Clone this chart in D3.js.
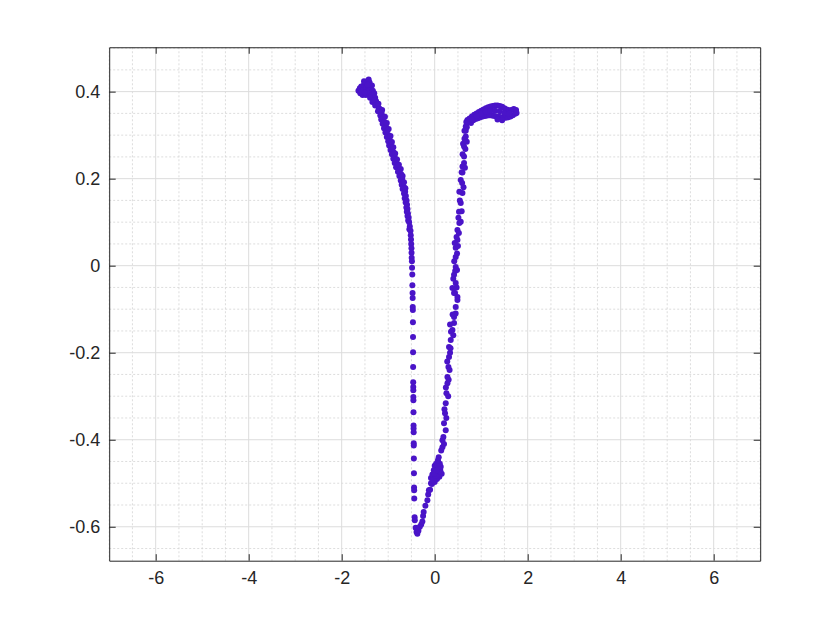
<!DOCTYPE html>
<html>
<head>
<meta charset="utf-8">
<script src="https://cdn.jsdelivr.net/npm/d3@7"></script>
<style>
  html, body { margin: 0; padding: 0; background: #fff; }
  svg { display: block; }
</style>
</head>
<body>
<svg id="chart" width="840" height="630"></svg>
<script>
// ---- Data ----
const xTicks = [-6, -4, -2, 0, 2, 4, 6];
const yTicks = [-0.6, -0.4, -0.2, 0, 0.2, 0.4];
const xDomain = [-7, 7];
const yDomain = [-0.678, 0.502];

// Top-left cluster
const leftCluster = [
  [-1.64,0.402],[-1.61,0.408],[-1.58,0.412],[-1.55,0.404],[-1.52,0.416],[-1.50,0.421],
  [-1.47,0.408],[-1.45,0.424],[-1.42,0.412],[-1.40,0.421],[-1.38,0.404],[-1.35,0.414],
  [-1.33,0.402],[-1.60,0.396],[-1.55,0.392],[-1.48,0.392],[-1.42,0.397],[-1.36,0.392],
  [-1.30,0.396],[-1.28,0.386],[-1.52,0.424],[-1.42,0.428],[-1.46,0.400],[-1.32,0.382],
  [-1.57,0.400],[-1.50,0.398],[-1.39,0.386],[-1.34,0.376],[-1.26,0.378],[-1.44,0.416]
];

// Thick descending left band
const leftBand = [
  [-1.30,0.380],[-1.24,0.370],[-1.28,0.368],[-1.20,0.362],[-1.18,0.360],[-1.22,0.355],
  [-1.14,0.350],[-1.17,0.345],[-1.11,0.340],[-1.15,0.336],[-1.08,0.330],[-1.12,0.326],
  [-1.05,0.320],[-1.09,0.316],[-1.02,0.310],[-1.06,0.306],[-0.99,0.300],[-1.03,0.296],
  [-0.97,0.290],[-1.00,0.286],[-0.94,0.280],[-0.98,0.276],[-0.91,0.270],[-0.95,0.266],
  [-0.88,0.260],[-0.92,0.256],[-0.86,0.250],[-0.89,0.246],[-0.83,0.240],[-0.86,0.236],
  [-0.79,0.230],[-0.83,0.226],[-0.75,0.220],[-0.79,0.216],[-0.72,0.210],[-0.76,0.206],
  [-0.70,0.200],[-0.73,0.196],[-0.68,0.190],[-0.71,0.186],[-0.66,0.180],[-0.69,0.176],
  [-0.635,0.170],[-0.66,0.166],[-0.62,0.160],[-0.645,0.155],[-0.605,0.150],[-0.625,0.145],
  [-0.595,0.140],[-0.61,0.134],[-0.585,0.130],[-0.60,0.124],[-0.575,0.120],[-0.585,0.114],
  [-0.56,0.110],[-0.57,0.104],[-0.55,0.100],[-0.535,0.090],[-0.545,0.084],[-0.52,0.080],
  [-0.515,0.070],[-0.51,0.060],[-0.505,0.050],[-0.50,0.040],[-0.498,0.030],[-0.495,0.018],
  [-0.49,0.010],[-0.487,-0.005],
  [-1.21,0.372],[-1.13,0.358],[-1.07,0.342],[-1.03,0.328],[-0.99,0.314],[-0.95,0.298],
  [-0.92,0.284],[-0.89,0.272],[-0.85,0.258],[-0.81,0.244],[-0.77,0.232],[-0.73,0.222],
  [-0.69,0.206],[-0.66,0.192],[-0.63,0.178]
];

// Sparse lower part of the left branch
const leftTail = [
  [-0.482,-0.020],[-0.480,-0.045],[-0.476,-0.063],[-0.474,-0.074],[-0.472,-0.095],
  [-0.470,-0.102],[-0.468,-0.130],[-0.466,-0.164],[-0.465,-0.199],[-0.464,-0.233],
  [-0.462,-0.268],[-0.461,-0.279],[-0.460,-0.286],[-0.459,-0.302],[-0.458,-0.309],
  [-0.456,-0.337],[-0.455,-0.367],[-0.454,-0.374],[-0.452,-0.383],[-0.451,-0.408],
  [-0.450,-0.413],[-0.448,-0.443],[-0.446,-0.477],[-0.444,-0.510],[-0.442,-0.516],
  [-0.440,-0.535],[-0.432,-0.578],[-0.428,-0.585],[-0.410,-0.602]
];

// Bottom vertex and small cluster near x = 0
const bottomPart = [
  [-0.390,-0.612],[-0.373,-0.616],[-0.350,-0.609],[-0.320,-0.600],[-0.290,-0.595],
  [-0.265,-0.588],[-0.250,-0.575],[-0.237,-0.566],[-0.200,-0.552],[-0.157,-0.539],
  [-0.140,-0.526],[-0.125,-0.516],[-0.100,-0.515],[-0.080,-0.500],[-0.060,-0.502],
  [-0.080,-0.488],[-0.050,-0.480],[-0.020,-0.470],[0.000,-0.460],[0.030,-0.455],
  [0.060,-0.460],[0.090,-0.465],[0.120,-0.470],[0.150,-0.478],[0.100,-0.485],
  [0.050,-0.490],[0.000,-0.497],[-0.030,-0.492],[0.080,-0.474],[0.130,-0.462],
  [0.020,-0.483],[-0.010,-0.478],[0.110,-0.455],[0.070,-0.447],[0.040,-0.470]
];

// Right rising branch
const rightBand = [
  [0.086,-0.440],[0.140,-0.425],[0.166,-0.417],[0.166,-0.401],[0.187,-0.394],[0.237,-0.378],
  [0.200,-0.362],[0.222,-0.339],[0.237,-0.316],[0.252,-0.293],[0.274,-0.270],[0.300,-0.262],
  [0.274,-0.256],[0.295,-0.233],[0.308,-0.210],[0.330,-0.200],[0.308,-0.187],[0.345,-0.171],
  [0.381,-0.148],[0.350,-0.152],[0.416,-0.132],[0.416,-0.118],[0.385,-0.112],[0.452,-0.095],
  [0.489,-0.079],[0.437,-0.063],[0.489,-0.072],[0.416,-0.063],[0.381,-0.051],[0.452,-0.040],
  [0.416,-0.021],[0.440,-0.012],[0.452,-0.003],[0.452,0.020],[0.480,0.028],[0.452,0.041],
  [0.489,0.059],[0.470,0.066],[0.489,0.082],[0.560,0.101],[0.530,0.098],[0.523,0.124],
  [0.560,0.144],[0.540,0.150],[0.597,0.167],[0.560,0.197],[0.590,0.190],[0.597,0.214],
  [0.631,0.236],[0.597,0.228],[0.631,0.251],[0.600,0.256],[0.631,0.274],[0.660,0.268],
  [0.668,0.297],[0.640,0.292],[0.668,0.310],[0.668,0.320],[0.690,0.318],[0.704,0.335],
  [0.680,0.330],
  [0.200,-0.410],[0.250,-0.350],[0.210,-0.330],[0.290,-0.300],[0.240,-0.280],[0.320,-0.240],
  [0.270,-0.220],[0.340,-0.190],[0.400,-0.160],[0.330,-0.135],[0.450,-0.110],[0.470,-0.050],
  [0.400,-0.030],[0.480,-0.010],[0.420,0.010],[0.500,0.045],[0.430,0.052],[0.520,0.075],
  [0.510,0.110],[0.580,0.125],[0.530,0.170],[0.620,0.180],[0.580,0.215],[0.650,0.225],
  [0.610,0.280],[0.690,0.285],[0.640,0.310]
];

// Top-right blob
const rightTop = [
  [0.72,0.330],[0.75,0.338],[0.78,0.328],[0.80,0.343],[0.83,0.334],[0.85,0.347],
  [0.88,0.337],[0.90,0.350],[0.93,0.339],[0.95,0.353],[0.98,0.341],[1.00,0.356],
  [1.03,0.343],[1.05,0.359],[1.08,0.344],[1.10,0.362],[1.13,0.345],[1.15,0.364],
  [1.18,0.346],[1.20,0.366],[1.23,0.345],[1.25,0.367],[1.28,0.344],[1.30,0.368],
  [1.33,0.343],[1.35,0.368],[1.38,0.342],[1.40,0.367],[1.43,0.341],[1.45,0.365],
  [1.48,0.340],[1.50,0.362],[1.53,0.340],[1.55,0.359],[1.58,0.341],[1.60,0.357],
  [1.63,0.343],[1.65,0.358],[1.68,0.346],[1.70,0.360],[1.73,0.349],[1.75,0.358],
  [1.76,0.351],[1.00,0.349],[1.10,0.354],[1.20,0.356],[1.30,0.356],[1.40,0.355],
  [1.50,0.351],[1.60,0.349],[0.90,0.344],[0.80,0.336],[1.45,0.334],[1.35,0.336]
];

const seriesList = [leftCluster, leftBand, leftTail, bottomPart, rightBand, rightTop];

// ---- Layout ----
const plot = { left: 109.2, top: 47.25, width: 651, height: 513.45 };

const svg = d3.select("#chart");
const x = d3.scaleLinear().domain(xDomain).range([plot.left, plot.left + plot.width]);
const y = d3.scaleLinear().domain(yDomain).range([plot.top + plot.height, plot.top]);

const g = svg.append("g");

// minor grid
const xMinor = d3.range(-7, 7.001, 0.5).filter(v => Math.abs(v % 2) > 1e-6);
const yMinor = d3.range(-0.65, 0.5001, 0.05).filter(v => !yTicks.some(t => Math.abs(t - v) < 1e-6));
g.append("g").selectAll("line").data(xMinor).join("line")
  .attr("x1", d => x(d)).attr("x2", d => x(d))
  .attr("y1", plot.top).attr("y2", plot.top + plot.height)
  .attr("stroke", "#d4d4d4").attr("stroke-width", 0.8).attr("stroke-dasharray", "2,2");
g.append("g").selectAll("line").data(yMinor).join("line")
  .attr("y1", d => y(d)).attr("y2", d => y(d))
  .attr("x1", plot.left).attr("x2", plot.left + plot.width)
  .attr("stroke", "#d4d4d4").attr("stroke-width", 0.8).attr("stroke-dasharray", "2,2");

// major grid
g.append("g").selectAll("line").data(xTicks).join("line")
  .attr("x1", d => x(d)).attr("x2", d => x(d))
  .attr("y1", plot.top).attr("y2", plot.top + plot.height)
  .attr("stroke", "#dcdcdc").attr("stroke-width", 1);
g.append("g").selectAll("line").data(yTicks).join("line")
  .attr("y1", d => y(d)).attr("y2", d => y(d))
  .attr("x1", plot.left).attr("x2", plot.left + plot.width)
  .attr("stroke", "#dcdcdc").attr("stroke-width", 1);

// points
const pts = seriesList.flat();
g.append("g").selectAll("circle").data(pts).join("circle")
  .attr("cx", d => x(d[0])).attr("cy", d => y(d[1]))
  .attr("r", 3).attr("fill", "#4a14c8");

// axes
const axisColor = "#262626";
const fmtX = d => String(d);
const fmtY = d => (d === 0 ? "0" : String(d));
const tickLen = 6.5;
function styleAxis(sel) {
  sel.select(".domain").attr("stroke", axisColor).attr("stroke-width", 1);
  sel.selectAll(".tick line").attr("stroke", axisColor).attr("stroke-width", 1);
  sel.selectAll(".tick text").attr("fill", axisColor)
    .style("font-family", "'Liberation Sans', Arial, Helvetica, sans-serif")
    .style("font-size", "18px");
}
svg.append("g").attr("transform", `translate(0,${plot.top + plot.height})`)
  .call(d3.axisBottom(x).tickValues(xTicks).tickFormat(fmtX).tickSize(-tickLen).tickSizeOuter(0).tickPadding(11))
  .call(styleAxis);
svg.append("g").attr("transform", `translate(0,${plot.top})`)
  .call(d3.axisTop(x).tickValues(xTicks).tickFormat("").tickSize(-tickLen).tickSizeOuter(0))
  .call(styleAxis);
svg.append("g").attr("transform", `translate(${plot.left},0)`)
  .call(d3.axisLeft(y).tickValues(yTicks).tickFormat(fmtY).tickSize(-tickLen).tickSizeOuter(0).tickPadding(9))
  .call(styleAxis);
svg.append("g").attr("transform", `translate(${plot.left + plot.width},0)`)
  .call(d3.axisRight(y).tickValues(yTicks).tickFormat("").tickSize(-tickLen).tickSizeOuter(0))
  .call(styleAxis);
</script>
</body>
</html>
